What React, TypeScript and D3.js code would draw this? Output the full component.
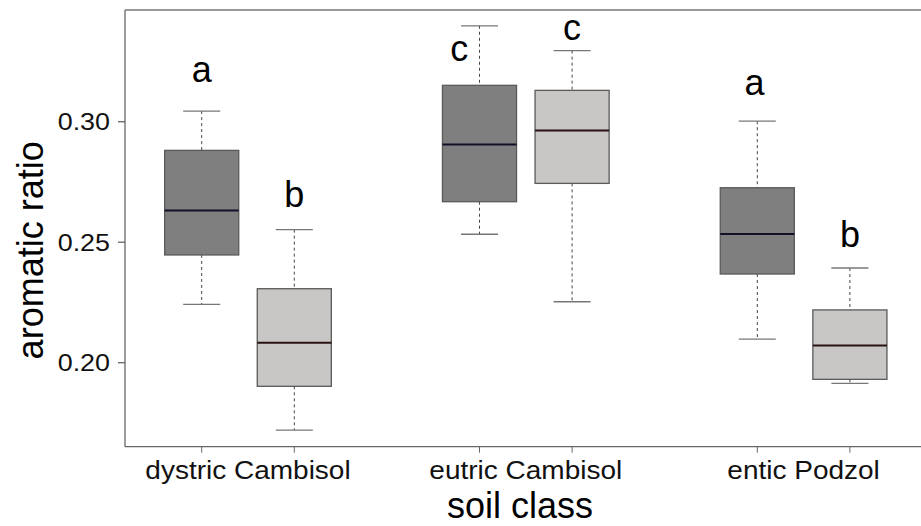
import * as d3 from "d3";

// soil classes, two boxes per class (dark / light)
const categories = ["dystric Cambisol", "eutric Cambisol", "entic Podzol"];
const categoryPos = [1.5, 4.5, 7.5];
const boxPos = [1, 2, 4, 5, 7, 8];
const boxKind = ["dark", "light", "dark", "light", "dark", "light"];

const whiskerLow = [0.2242, 0.172, 0.2533, 0.2253, 0.2098, 0.1914];
const q1 = [0.2447, 0.1902, 0.2668, 0.2744, 0.2368, 0.1931];
const median = [0.2632, 0.2083, 0.2905, 0.2964, 0.2534, 0.2071];
const q3 = [0.2881, 0.2307, 0.3151, 0.313, 0.2726, 0.2219];
const whiskerHigh = [0.3044, 0.2552, 0.3398, 0.3295, 0.3002, 0.2393];

// significance letters
const letters = ["a", "b", "c", "c", "a", "b"];
const letterPos = [1, 2, 3.78, 5, 6.97, 8];
const letterVal = [0.3165, 0.2647, 0.3252, 0.3337, 0.3111, 0.2482];

const yTicks = [0.2, 0.25, 0.3];

const W = 921;
const H = 526;
const font = "'Liberation Sans', Arial, sans-serif";
const stretch = 1.12; // labels in the original look a bit wide

export default function App() {
  const left = 125;
  const right = 921;
  const top = 10;
  const bottom = 446.7;

  const x = d3.scaleLinear().domain([1, 8]).range([201.7, 849.9]);
  const y = d3.scaleLinear().domain([0.2, 0.3]).range([362.7, 121.7]);
  const boxW = x(1.8) - x(1);
  const capW = x(1.4) - x(1);

  const fill = { dark: "#807f80", light: "#c8c7c6" };
  const medCol = { dark: "#101028", light: "#2a1212" };

  return (
    <svg width={W} height={H} style={{ position: "absolute", left: 0, top: 0, background: "#fff" }}>
      {/* frame */}
      <line x1={left} x2={right} y1={top} y2={top} stroke="#777" strokeWidth={1.3} />
      <line x1={left} x2={left} y1={top} y2={bottom} stroke="#666" strokeWidth={1.3} />
      <line x1={left} x2={right} y1={bottom} y2={bottom} stroke="#666" strokeWidth={1.3} />

      {/* y axis */}
      {yTicks.map((t) => (
        <g key={t}>
          <line x1={left - 7} x2={left} y1={y(t)} y2={y(t)} stroke="#666" strokeWidth={1.3} />
          <text
            transform={`translate(${left - 15},${y(t)}) scale(${stretch},1)`}
            dy="0.36em"
            textAnchor="end"
            fontSize={24}
            fontFamily={font}
            fill="#111"
          >
            {d3.format(".2f")(t)}
          </text>
        </g>
      ))}
      <text
        transform={`translate(43,${(top + bottom) / 2 + 22}) rotate(-90)`}
        textAnchor="middle"
        fontSize={36}
        fontFamily={font}
        fill="#000"
      >
        aromatic ratio
      </text>

      {/* x axis */}
      {boxPos.map((p) => (
        <line key={p} x1={x(p)} x2={x(p)} y1={bottom} y2={bottom + 6} stroke="#666" strokeWidth={1} />
      ))}
      {categories.map((c, i) => (
        <text
          key={c}
          transform={`translate(${x(categoryPos[i])},479) scale(${stretch},1)`}
          textAnchor="middle"
          fontSize={25}
          fontFamily={font}
          fill="#111"
        >
          {c}
        </text>
      ))}
      <text x={(left + right) / 2 - 3} y={518} textAnchor="middle" fontSize={36} fontFamily={font} fill="#000">
        soil class
      </text>

      {/* boxes */}
      {boxPos.map((p, i) => {
        const cx = x(p);
        const k = boxKind[i] as "dark" | "light";
        return (
          <g key={i}>
            <line x1={cx} x2={cx} y1={y(whiskerHigh[i])} y2={y(q3[i])} stroke="#444" strokeWidth={1} strokeDasharray="3,3" />
            <line x1={cx} x2={cx} y1={y(q1[i])} y2={y(whiskerLow[i])} stroke="#444" strokeWidth={1} strokeDasharray="3,3" />
            <line x1={cx - capW / 2} x2={cx + capW / 2} y1={y(whiskerHigh[i])} y2={y(whiskerHigh[i])} stroke="#777" strokeWidth={1.3} />
            <line x1={cx - capW / 2} x2={cx + capW / 2} y1={y(whiskerLow[i])} y2={y(whiskerLow[i])} stroke="#777" strokeWidth={1.3} />
            <rect
              x={cx - boxW / 2}
              y={y(q3[i])}
              width={boxW}
              height={y(q1[i]) - y(q3[i])}
              fill={fill[k]}
              stroke="#5a5a5a"
              strokeWidth={1.3}
            />
            <line x1={cx - boxW / 2} x2={cx + boxW / 2} y1={y(median[i])} y2={y(median[i])} stroke={medCol[k]} strokeWidth={2} />
          </g>
        );
      })}

      {/* letters */}
      {letters.map((l, i) => (
        <text
          key={i}
          x={x(letterPos[i])}
          y={y(letterVal[i])}
          textAnchor="middle"
          fontSize={36}
          fontFamily={font}
          fill="#000"
        >
          {l}
        </text>
      ))}
    </svg>
  );
}
